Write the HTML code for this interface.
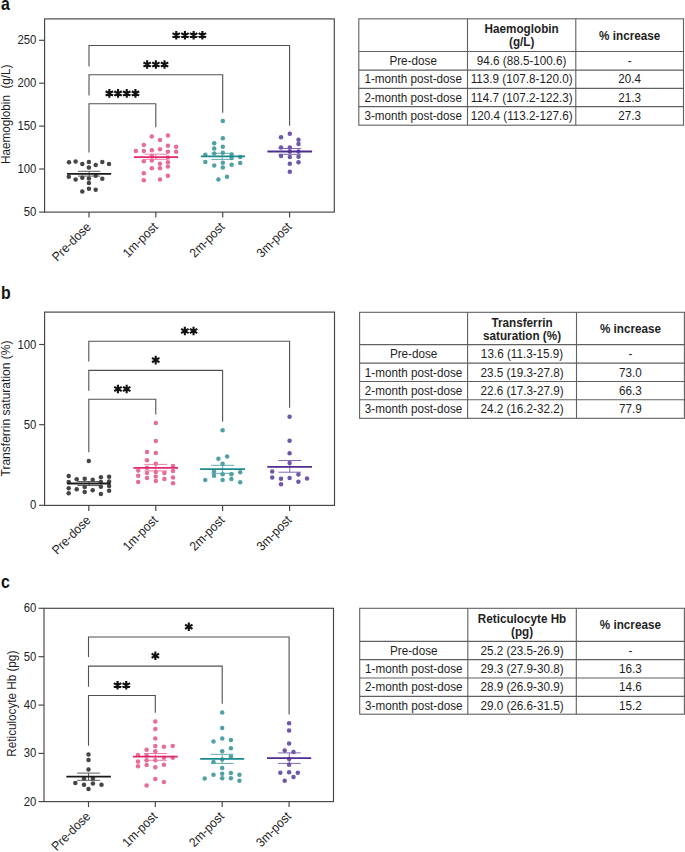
<!DOCTYPE html>
<html><head><meta charset="utf-8"><title>Figure</title>
<style>
html,body{margin:0;padding:0;background:#fff;}
body{width:685px;height:852px;overflow:hidden;font-family:"Liberation Sans", sans-serif;}
svg{display:block;}
svg text{font-family:"Liberation Sans", sans-serif;}
</style></head>
<body>
<svg width="685" height="852" viewBox="0 0 685 852">
<rect width="685" height="852" fill="#fff"/>
<text transform="translate(1.10,9.80) scale(0.9,1.0)" font-size="17.6" font-weight="bold" fill="#111">a</text>
<rect x="44.6" y="18.9" width="289.70" height="193.20" fill="none" stroke="#444444" stroke-width="1.15"/>
<line x1="39.10" y1="40.3" x2="44.6" y2="40.3" stroke="#444444" stroke-width="1.15"/>
<text transform="translate(36.40,44.30) scale(0.9,1.0)" font-size="12.6" text-anchor="end" fill="#1e1e1e">250</text>
<line x1="39.10" y1="83.2" x2="44.6" y2="83.2" stroke="#444444" stroke-width="1.15"/>
<text transform="translate(36.40,87.20) scale(0.9,1.0)" font-size="12.6" text-anchor="end" fill="#1e1e1e">200</text>
<line x1="39.10" y1="126.1" x2="44.6" y2="126.1" stroke="#444444" stroke-width="1.15"/>
<text transform="translate(36.40,130.10) scale(0.9,1.0)" font-size="12.6" text-anchor="end" fill="#1e1e1e">150</text>
<line x1="39.10" y1="169.0" x2="44.6" y2="169.0" stroke="#444444" stroke-width="1.15"/>
<text transform="translate(36.40,173.00) scale(0.9,1.0)" font-size="12.6" text-anchor="end" fill="#1e1e1e">100</text>
<line x1="39.10" y1="212.1" x2="44.6" y2="212.1" stroke="#444444" stroke-width="1.15"/>
<text transform="translate(36.40,216.10) scale(0.9,1.0)" font-size="12.6" text-anchor="end" fill="#1e1e1e">50</text>
<text transform="translate(9.70,114.30) rotate(-90) scale(1.0,1.07)" font-size="11.7" text-anchor="middle" fill="#1e1e1e">Haemoglobin  (g/L)</text>
<line x1="89.0" y1="212.1" x2="89.0" y2="217.60" stroke="#444444" stroke-width="1.15"/>
<text transform="translate(91.70,227.70) rotate(-45) scale(1.0,1.07)" font-size="12.0" text-anchor="end" fill="#1e1e1e">Pre-dose</text>
<line x1="155.8" y1="212.1" x2="155.8" y2="217.60" stroke="#444444" stroke-width="1.15"/>
<text transform="translate(158.50,227.70) rotate(-45) scale(1.0,1.07)" font-size="12.0" text-anchor="end" fill="#1e1e1e">1m-post</text>
<line x1="222.7" y1="212.1" x2="222.7" y2="217.60" stroke="#444444" stroke-width="1.15"/>
<text transform="translate(225.40,227.70) rotate(-45) scale(1.0,1.07)" font-size="12.0" text-anchor="end" fill="#1e1e1e">2m-post</text>
<line x1="289.6" y1="212.1" x2="289.6" y2="217.60" stroke="#444444" stroke-width="1.15"/>
<text transform="translate(292.30,227.70) rotate(-45) scale(1.0,1.07)" font-size="12.0" text-anchor="end" fill="#1e1e1e">3m-post</text>
<path d="M89.0,66.4V45.5H289.6V125.7" fill="none" stroke="#505050" stroke-width="1.1"/>
<path d="M176.25,39.50L176.25,30.90M172.53,37.35L179.97,33.05M172.53,33.05L179.97,37.35M184.95,39.50L184.95,30.90M181.23,37.35L188.67,33.05M181.23,33.05L188.67,37.35M193.65,39.50L193.65,30.90M189.93,37.35L197.37,33.05M189.93,33.05L197.37,37.35M202.35,39.50L202.35,30.90M198.63,37.35L206.07,33.05M198.63,33.05L206.07,37.35" stroke="#111" stroke-width="2.1" stroke-linecap="butt" fill="none"/>
<path d="M89.0,95.5V74.8H222.7V112.7" fill="none" stroke="#505050" stroke-width="1.1"/>
<path d="M147.15,68.80L147.15,60.20M143.43,66.65L150.87,62.35M143.43,62.35L150.87,66.65M155.85,68.80L155.85,60.20M152.13,66.65L159.57,62.35M152.13,62.35L159.57,66.65M164.55,68.80L164.55,60.20M160.83,66.65L168.27,62.35M160.83,62.35L168.27,66.65" stroke="#111" stroke-width="2.1" stroke-linecap="butt" fill="none"/>
<path d="M89.0,152.6V103.7H155.8V127.2" fill="none" stroke="#505050" stroke-width="1.1"/>
<path d="M109.35,97.70L109.35,89.10M105.63,95.55L113.07,91.25M105.63,91.25L113.07,95.55M118.05,97.70L118.05,89.10M114.33,95.55L121.77,91.25M114.33,91.25L121.77,95.55M126.75,97.70L126.75,89.10M123.03,95.55L130.47,91.25M123.03,91.25L130.47,95.55M135.45,97.70L135.45,89.10M131.73,95.55L139.17,91.25M131.73,91.25L139.17,95.55" stroke="#111" stroke-width="2.1" stroke-linecap="butt" fill="none"/>
<circle cx="69.0" cy="162.3" r="2.25" fill="#454545"/>
<circle cx="75.6" cy="161.4" r="2.25" fill="#454545"/>
<circle cx="82.3" cy="164.0" r="2.25" fill="#454545"/>
<circle cx="88.9" cy="162.1" r="2.25" fill="#454545"/>
<circle cx="95.7" cy="164.9" r="2.25" fill="#454545"/>
<circle cx="102.3" cy="162.1" r="2.25" fill="#454545"/>
<circle cx="109.0" cy="164.0" r="2.25" fill="#454545"/>
<circle cx="88.9" cy="167.5" r="2.25" fill="#454545"/>
<circle cx="68.8" cy="176.7" r="2.25" fill="#454545"/>
<circle cx="75.6" cy="179.6" r="2.25" fill="#454545"/>
<circle cx="82.3" cy="177.8" r="2.25" fill="#454545"/>
<circle cx="88.9" cy="178.5" r="2.25" fill="#454545"/>
<circle cx="95.7" cy="175.8" r="2.25" fill="#454545"/>
<circle cx="102.3" cy="178.7" r="2.25" fill="#454545"/>
<circle cx="88.9" cy="183.1" r="2.25" fill="#454545"/>
<circle cx="88.9" cy="188.8" r="2.25" fill="#454545"/>
<circle cx="82.3" cy="191.6" r="2.25" fill="#454545"/>
<circle cx="95.7" cy="189.8" r="2.25" fill="#454545"/>
<path d="M78.0,171.3H100.3M78.0,176.1H100.3M89.15,171.3V176.1" stroke="#4a4a4a" stroke-width="0.9" fill="none"/>
<line x1="67.0" y1="173.8" x2="111.2" y2="173.8" stroke="#1a1a1a" stroke-width="1.8"/>
<circle cx="151.8" cy="136.4" r="2.25" fill="#e66d96"/>
<circle cx="167.9" cy="135.5" r="2.25" fill="#e66d96"/>
<circle cx="160.0" cy="139.9" r="2.25" fill="#e66d96"/>
<circle cx="143.8" cy="145.0" r="2.25" fill="#e66d96"/>
<circle cx="167.9" cy="145.8" r="2.25" fill="#e66d96"/>
<circle cx="176.1" cy="146.7" r="2.25" fill="#e66d96"/>
<circle cx="135.9" cy="151.1" r="2.25" fill="#e66d96"/>
<circle cx="143.8" cy="151.1" r="2.25" fill="#e66d96"/>
<circle cx="151.8" cy="150.2" r="2.25" fill="#e66d96"/>
<circle cx="160.0" cy="149.3" r="2.25" fill="#e66d96"/>
<circle cx="167.9" cy="151.8" r="2.25" fill="#e66d96"/>
<circle cx="176.1" cy="151.8" r="2.25" fill="#e66d96"/>
<circle cx="151.8" cy="156.1" r="2.25" fill="#e66d96"/>
<circle cx="167.9" cy="157.6" r="2.25" fill="#e66d96"/>
<circle cx="143.8" cy="161.3" r="2.25" fill="#e66d96"/>
<circle cx="151.8" cy="160.5" r="2.25" fill="#e66d96"/>
<circle cx="160.0" cy="163.7" r="2.25" fill="#e66d96"/>
<circle cx="167.9" cy="162.2" r="2.25" fill="#e66d96"/>
<circle cx="151.8" cy="168.2" r="2.25" fill="#e66d96"/>
<circle cx="160.0" cy="168.3" r="2.25" fill="#e66d96"/>
<circle cx="167.9" cy="166.6" r="2.25" fill="#e66d96"/>
<circle cx="143.8" cy="173.2" r="2.25" fill="#e66d96"/>
<circle cx="167.9" cy="175.8" r="2.25" fill="#e66d96"/>
<circle cx="143.8" cy="180.2" r="2.25" fill="#e66d96"/>
<circle cx="160.0" cy="179.5" r="2.25" fill="#e66d96"/>
<path d="M144.4,154.2H167.2M144.4,159.3H167.2M155.80,154.2V159.3" stroke="#e8739b" stroke-width="0.9" fill="none"/>
<line x1="133.9" y1="157.2" x2="178.1" y2="157.2" stroke="#e02a70" stroke-width="1.8"/>
<circle cx="222.8" cy="121.0" r="2.25" fill="#50a0a4"/>
<circle cx="222.8" cy="138.2" r="2.25" fill="#50a0a4"/>
<circle cx="214.2" cy="143.3" r="2.25" fill="#50a0a4"/>
<circle cx="214.2" cy="148.5" r="2.25" fill="#50a0a4"/>
<circle cx="222.8" cy="146.7" r="2.25" fill="#50a0a4"/>
<circle cx="214.2" cy="153.4" r="2.25" fill="#50a0a4"/>
<circle cx="222.8" cy="152.8" r="2.25" fill="#50a0a4"/>
<circle cx="205.3" cy="154.8" r="2.25" fill="#50a0a4"/>
<circle cx="231.6" cy="154.6" r="2.25" fill="#50a0a4"/>
<circle cx="231.6" cy="157.9" r="2.25" fill="#50a0a4"/>
<circle cx="240.2" cy="157.0" r="2.25" fill="#50a0a4"/>
<circle cx="205.3" cy="162.1" r="2.25" fill="#50a0a4"/>
<circle cx="214.2" cy="165.6" r="2.25" fill="#50a0a4"/>
<circle cx="222.8" cy="162.7" r="2.25" fill="#50a0a4"/>
<circle cx="231.6" cy="164.7" r="2.25" fill="#50a0a4"/>
<circle cx="240.2" cy="163.0" r="2.25" fill="#50a0a4"/>
<circle cx="222.8" cy="167.5" r="2.25" fill="#50a0a4"/>
<circle cx="218.4" cy="179.4" r="2.25" fill="#50a0a4"/>
<circle cx="227.0" cy="176.8" r="2.25" fill="#50a0a4"/>
<path d="M211.3,153.3H233.2M211.3,159.4H233.2M222.25,153.3V159.4" stroke="#50a0a4" stroke-width="0.9" fill="none"/>
<line x1="200.8" y1="156.3" x2="245.0" y2="156.3" stroke="#1a8a8e" stroke-width="1.8"/>
<circle cx="289.8" cy="133.8" r="2.25" fill="#7056a8"/>
<circle cx="281.0" cy="137.3" r="2.25" fill="#7056a8"/>
<circle cx="298.5" cy="139.8" r="2.25" fill="#7056a8"/>
<circle cx="298.5" cy="144.1" r="2.25" fill="#7056a8"/>
<circle cx="281.0" cy="147.6" r="2.25" fill="#7056a8"/>
<circle cx="289.8" cy="147.6" r="2.25" fill="#7056a8"/>
<circle cx="289.8" cy="151.5" r="2.25" fill="#7056a8"/>
<circle cx="298.5" cy="151.5" r="2.25" fill="#7056a8"/>
<circle cx="281.0" cy="155.9" r="2.25" fill="#7056a8"/>
<circle cx="289.8" cy="157.0" r="2.25" fill="#7056a8"/>
<circle cx="298.5" cy="156.8" r="2.25" fill="#7056a8"/>
<circle cx="298.5" cy="162.3" r="2.25" fill="#7056a8"/>
<circle cx="289.8" cy="163.8" r="2.25" fill="#7056a8"/>
<circle cx="289.8" cy="171.7" r="2.25" fill="#7056a8"/>
<path d="M278.4,148.5H301.2M278.4,154.3H301.2M289.80,148.5V154.3" stroke="#7455ab" stroke-width="0.9" fill="none"/>
<line x1="267.4" y1="151.5" x2="312.1" y2="151.5" stroke="#4f2d8f" stroke-width="1.8"/>
<rect x="358.8" y="18.8" width="324.70" height="106.40" fill="#fff" stroke="#606060" stroke-width="1.1"/>
<line x1="358.8" y1="51.5" x2="683.5" y2="51.5" stroke="#606060" stroke-width="1.1"/>
<line x1="358.8" y1="70.1" x2="683.5" y2="70.1" stroke="#606060" stroke-width="1.1"/>
<line x1="358.8" y1="88.4" x2="683.5" y2="88.4" stroke="#606060" stroke-width="1.1"/>
<line x1="358.8" y1="106.6" x2="683.5" y2="106.6" stroke="#606060" stroke-width="1.1"/>
<line x1="467.5" y1="18.8" x2="467.5" y2="125.2" stroke="#606060" stroke-width="1.1"/>
<line x1="575.8" y1="18.8" x2="575.8" y2="125.2" stroke="#606060" stroke-width="1.1"/>
<text transform="translate(521.65,33.45) scale(1.0,1.07)" font-size="11.7" font-weight="bold" text-anchor="middle" fill="#1e1e1e">Haemoglobin</text>
<text transform="translate(521.65,46.45) scale(1.0,1.07)" font-size="11.7" font-weight="bold" text-anchor="middle" fill="#1e1e1e">(g/L)</text>
<text transform="translate(629.65,39.65) scale(1.0,1.07)" font-size="11.7" font-weight="bold" text-anchor="middle" fill="#1e1e1e">% increase</text>
<text transform="translate(413.15,65.00) scale(1.0,1.07)" font-size="11.7" text-anchor="middle" fill="#1e1e1e">Pre-dose</text>
<text transform="translate(521.65,65.00) scale(1.0,1.07)" font-size="11.7" text-anchor="middle" fill="#1e1e1e">94.6 (88.5-100.6)</text>
<text transform="translate(629.65,65.00) scale(1.0,1.07)" font-size="11.7" text-anchor="middle" fill="#1e1e1e">-</text>
<text transform="translate(413.15,83.45) scale(1.0,1.07)" font-size="11.7" text-anchor="middle" fill="#1e1e1e">1-month post-dose</text>
<text transform="translate(521.65,83.45) scale(1.0,1.07)" font-size="11.7" text-anchor="middle" fill="#1e1e1e">113.9 (107.8-120.0)</text>
<text transform="translate(629.65,83.45) scale(1.0,1.07)" font-size="11.7" text-anchor="middle" fill="#1e1e1e">20.4</text>
<text transform="translate(413.15,101.70) scale(1.0,1.07)" font-size="11.7" text-anchor="middle" fill="#1e1e1e">2-month post-dose</text>
<text transform="translate(521.65,101.70) scale(1.0,1.07)" font-size="11.7" text-anchor="middle" fill="#1e1e1e">114.7 (107.2-122.3)</text>
<text transform="translate(629.65,101.70) scale(1.0,1.07)" font-size="11.7" text-anchor="middle" fill="#1e1e1e">21.3</text>
<text transform="translate(413.15,120.10) scale(1.0,1.07)" font-size="11.7" text-anchor="middle" fill="#1e1e1e">3-month post-dose</text>
<text transform="translate(521.65,120.10) scale(1.0,1.07)" font-size="11.7" text-anchor="middle" fill="#1e1e1e">120.4 (113.2-127.6)</text>
<text transform="translate(629.65,120.10) scale(1.0,1.07)" font-size="11.7" text-anchor="middle" fill="#1e1e1e">27.3</text>
<text transform="translate(1.10,298.70) scale(0.9,1.0)" font-size="17.6" font-weight="bold" fill="#111">b</text>
<rect x="44.6" y="312.1" width="289.90" height="193.30" fill="none" stroke="#444444" stroke-width="1.15"/>
<line x1="39.10" y1="344.5" x2="44.6" y2="344.5" stroke="#444444" stroke-width="1.15"/>
<text transform="translate(36.40,348.50) scale(0.9,1.0)" font-size="12.6" text-anchor="end" fill="#1e1e1e">100</text>
<line x1="39.10" y1="424.7" x2="44.6" y2="424.7" stroke="#444444" stroke-width="1.15"/>
<text transform="translate(36.40,428.70) scale(0.9,1.0)" font-size="12.6" text-anchor="end" fill="#1e1e1e">50</text>
<line x1="39.10" y1="505.3" x2="44.6" y2="505.3" stroke="#444444" stroke-width="1.15"/>
<text transform="translate(36.40,509.30) scale(0.9,1.0)" font-size="12.6" text-anchor="end" fill="#1e1e1e">0</text>
<text transform="translate(9.80,408.50) rotate(-90) scale(1.0,1.07)" font-size="12.05" text-anchor="middle" fill="#1e1e1e">Transferrin saturation (%)</text>
<line x1="88.8" y1="505.4" x2="88.8" y2="510.90" stroke="#444444" stroke-width="1.15"/>
<text transform="translate(91.50,521.00) rotate(-45) scale(1.0,1.07)" font-size="12.0" text-anchor="end" fill="#1e1e1e">Pre-dose</text>
<line x1="155.8" y1="505.4" x2="155.8" y2="510.90" stroke="#444444" stroke-width="1.15"/>
<text transform="translate(158.50,521.00) rotate(-45) scale(1.0,1.07)" font-size="12.0" text-anchor="end" fill="#1e1e1e">1m-post</text>
<line x1="222.6" y1="505.4" x2="222.6" y2="510.90" stroke="#444444" stroke-width="1.15"/>
<text transform="translate(225.30,521.00) rotate(-45) scale(1.0,1.07)" font-size="12.0" text-anchor="end" fill="#1e1e1e">2m-post</text>
<line x1="289.6" y1="505.4" x2="289.6" y2="510.90" stroke="#444444" stroke-width="1.15"/>
<text transform="translate(292.30,521.00) rotate(-45) scale(1.0,1.07)" font-size="12.0" text-anchor="end" fill="#1e1e1e">3m-post</text>
<path d="M88.8,361.5V341.3H289.6V407.8" fill="none" stroke="#505050" stroke-width="1.1"/>
<path d="M184.85,335.30L184.85,326.70M181.13,333.15L188.57,328.85M181.13,328.85L188.57,333.15M193.55,335.30L193.55,326.70M189.83,333.15L197.27,328.85M189.83,328.85L197.27,333.15" stroke="#111" stroke-width="2.1" stroke-linecap="butt" fill="none"/>
<path d="M88.8,390.7V370.4H222.6V421.6" fill="none" stroke="#505050" stroke-width="1.1"/>
<path d="M155.70,364.40L155.70,355.80M151.98,362.25L159.42,357.95M151.98,357.95L159.42,362.25" stroke="#111" stroke-width="2.1" stroke-linecap="butt" fill="none"/>
<path d="M88.8,452.2V399.3H155.8V414.4" fill="none" stroke="#505050" stroke-width="1.1"/>
<path d="M117.95,393.30L117.95,384.70M114.23,391.15L121.67,386.85M114.23,386.85L121.67,391.15M126.65,393.30L126.65,384.70M122.93,391.15L130.37,386.85M122.93,386.85L130.37,391.15" stroke="#111" stroke-width="2.1" stroke-linecap="butt" fill="none"/>
<circle cx="88.8" cy="460.9" r="2.25" fill="#454545"/>
<circle cx="68.7" cy="475.9" r="2.25" fill="#454545"/>
<circle cx="76.7" cy="479.2" r="2.25" fill="#454545"/>
<circle cx="84.7" cy="478.8" r="2.25" fill="#454545"/>
<circle cx="92.7" cy="479.8" r="2.25" fill="#454545"/>
<circle cx="100.9" cy="477.2" r="2.25" fill="#454545"/>
<circle cx="109.1" cy="476.8" r="2.25" fill="#454545"/>
<circle cx="68.7" cy="481.9" r="2.25" fill="#454545"/>
<circle cx="100.9" cy="481.9" r="2.25" fill="#454545"/>
<circle cx="109.1" cy="481.5" r="2.25" fill="#454545"/>
<circle cx="68.7" cy="488.2" r="2.25" fill="#454545"/>
<circle cx="76.7" cy="489.2" r="2.25" fill="#454545"/>
<circle cx="84.7" cy="487.1" r="2.25" fill="#454545"/>
<circle cx="92.7" cy="490.2" r="2.25" fill="#454545"/>
<circle cx="100.9" cy="486.8" r="2.25" fill="#454545"/>
<circle cx="109.1" cy="486.1" r="2.25" fill="#454545"/>
<circle cx="68.7" cy="493.2" r="2.25" fill="#454545"/>
<circle cx="84.7" cy="492.0" r="2.25" fill="#454545"/>
<circle cx="100.9" cy="494.1" r="2.25" fill="#454545"/>
<circle cx="109.1" cy="490.8" r="2.25" fill="#454545"/>
<path d="M77.4,481.5H100.6M77.4,485.5H100.6M89.00,481.5V485.5" stroke="#4a4a4a" stroke-width="0.9" fill="none"/>
<line x1="67.1" y1="483.5" x2="110.5" y2="483.5" stroke="#1a1a1a" stroke-width="1.8"/>
<circle cx="155.8" cy="423.1" r="2.25" fill="#e66d96"/>
<circle cx="155.8" cy="440.9" r="2.25" fill="#e66d96"/>
<circle cx="147.0" cy="452.1" r="2.25" fill="#e66d96"/>
<circle cx="155.8" cy="453.1" r="2.25" fill="#e66d96"/>
<circle cx="147.0" cy="460.3" r="2.25" fill="#e66d96"/>
<circle cx="155.8" cy="463.7" r="2.25" fill="#e66d96"/>
<circle cx="147.0" cy="467.8" r="2.25" fill="#e66d96"/>
<circle cx="173.0" cy="466.0" r="2.25" fill="#e66d96"/>
<circle cx="138.2" cy="470.4" r="2.25" fill="#e66d96"/>
<circle cx="147.0" cy="473.1" r="2.25" fill="#e66d96"/>
<circle cx="155.8" cy="471.9" r="2.25" fill="#e66d96"/>
<circle cx="164.4" cy="473.1" r="2.25" fill="#e66d96"/>
<circle cx="173.0" cy="471.1" r="2.25" fill="#e66d96"/>
<circle cx="138.2" cy="475.8" r="2.25" fill="#e66d96"/>
<circle cx="147.0" cy="477.9" r="2.25" fill="#e66d96"/>
<circle cx="155.8" cy="476.4" r="2.25" fill="#e66d96"/>
<circle cx="173.0" cy="477.6" r="2.25" fill="#e66d96"/>
<circle cx="138.2" cy="482.1" r="2.25" fill="#e66d96"/>
<circle cx="155.8" cy="480.9" r="2.25" fill="#e66d96"/>
<circle cx="164.4" cy="479.1" r="2.25" fill="#e66d96"/>
<circle cx="173.0" cy="483.3" r="2.25" fill="#e66d96"/>
<path d="M144.4,464.4H167.1M144.4,470.9H167.1M155.75,464.4V470.9" stroke="#e8739b" stroke-width="0.9" fill="none"/>
<line x1="133.3" y1="467.8" x2="178.0" y2="467.8" stroke="#e02a70" stroke-width="1.8"/>
<circle cx="222.6" cy="430.2" r="2.25" fill="#50a0a4"/>
<circle cx="218.4" cy="458.8" r="2.25" fill="#50a0a4"/>
<circle cx="227.1" cy="456.6" r="2.25" fill="#50a0a4"/>
<circle cx="222.6" cy="463.7" r="2.25" fill="#50a0a4"/>
<circle cx="214.0" cy="471.5" r="2.25" fill="#50a0a4"/>
<circle cx="240.2" cy="472.2" r="2.25" fill="#50a0a4"/>
<circle cx="222.6" cy="474.2" r="2.25" fill="#50a0a4"/>
<circle cx="231.4" cy="474.2" r="2.25" fill="#50a0a4"/>
<circle cx="214.0" cy="475.8" r="2.25" fill="#50a0a4"/>
<circle cx="205.3" cy="480.1" r="2.25" fill="#50a0a4"/>
<circle cx="222.6" cy="480.1" r="2.25" fill="#50a0a4"/>
<circle cx="231.4" cy="479.1" r="2.25" fill="#50a0a4"/>
<circle cx="240.2" cy="482.2" r="2.25" fill="#50a0a4"/>
<path d="M211.2,465.3H234.1M211.2,473.3H234.1M222.65,465.3V473.3" stroke="#50a0a4" stroke-width="0.9" fill="none"/>
<line x1="200.1" y1="469.1" x2="245.1" y2="469.1" stroke="#1a8a8e" stroke-width="1.8"/>
<circle cx="289.6" cy="416.7" r="2.25" fill="#7056a8"/>
<circle cx="289.6" cy="440.7" r="2.25" fill="#7056a8"/>
<circle cx="289.6" cy="453.3" r="2.25" fill="#7056a8"/>
<circle cx="289.6" cy="463.1" r="2.25" fill="#7056a8"/>
<circle cx="272.2" cy="471.4" r="2.25" fill="#7056a8"/>
<circle cx="272.2" cy="477.4" r="2.25" fill="#7056a8"/>
<circle cx="281.0" cy="478.8" r="2.25" fill="#7056a8"/>
<circle cx="281.0" cy="484.2" r="2.25" fill="#7056a8"/>
<circle cx="289.6" cy="478.0" r="2.25" fill="#7056a8"/>
<circle cx="298.4" cy="474.4" r="2.25" fill="#7056a8"/>
<circle cx="298.4" cy="481.7" r="2.25" fill="#7056a8"/>
<circle cx="307.0" cy="478.6" r="2.25" fill="#7056a8"/>
<path d="M278.4,460.5H301.1M278.4,472.2H301.1M289.75,460.5V472.2" stroke="#7455ab" stroke-width="0.9" fill="none"/>
<line x1="267.3" y1="466.8" x2="312.0" y2="466.8" stroke="#4f2d8f" stroke-width="1.8"/>
<rect x="359.6" y="312.3" width="324.80" height="106.00" fill="#fff" stroke="#606060" stroke-width="1.1"/>
<line x1="359.6" y1="344.6" x2="684.4" y2="344.6" stroke="#606060" stroke-width="1.1"/>
<line x1="359.6" y1="363.1" x2="684.4" y2="363.1" stroke="#606060" stroke-width="1.1"/>
<line x1="359.6" y1="381.5" x2="684.4" y2="381.5" stroke="#606060" stroke-width="1.1"/>
<line x1="359.6" y1="399.8" x2="684.4" y2="399.8" stroke="#606060" stroke-width="1.1"/>
<line x1="467.6" y1="312.3" x2="467.6" y2="418.3" stroke="#606060" stroke-width="1.1"/>
<line x1="576.5" y1="312.3" x2="576.5" y2="418.3" stroke="#606060" stroke-width="1.1"/>
<text transform="translate(522.05,326.75) scale(1.0,1.07)" font-size="11.7" font-weight="bold" text-anchor="middle" fill="#1e1e1e">Transferrin</text>
<text transform="translate(522.05,339.75) scale(1.0,1.07)" font-size="11.7" font-weight="bold" text-anchor="middle" fill="#1e1e1e">saturation (%)</text>
<text transform="translate(630.45,332.95) scale(1.0,1.07)" font-size="11.7" font-weight="bold" text-anchor="middle" fill="#1e1e1e">% increase</text>
<text transform="translate(413.60,358.05) scale(1.0,1.07)" font-size="11.7" text-anchor="middle" fill="#1e1e1e">Pre-dose</text>
<text transform="translate(522.05,358.05) scale(1.0,1.07)" font-size="11.7" text-anchor="middle" fill="#1e1e1e">13.6 (11.3-15.9)</text>
<text transform="translate(630.45,358.05) scale(1.0,1.07)" font-size="11.7" text-anchor="middle" fill="#1e1e1e">-</text>
<text transform="translate(413.60,376.50) scale(1.0,1.07)" font-size="11.7" text-anchor="middle" fill="#1e1e1e">1-month post-dose</text>
<text transform="translate(522.05,376.50) scale(1.0,1.07)" font-size="11.7" text-anchor="middle" fill="#1e1e1e">23.5 (19.3-27.8)</text>
<text transform="translate(630.45,376.50) scale(1.0,1.07)" font-size="11.7" text-anchor="middle" fill="#1e1e1e">73.0</text>
<text transform="translate(413.60,394.85) scale(1.0,1.07)" font-size="11.7" text-anchor="middle" fill="#1e1e1e">2-month post-dose</text>
<text transform="translate(522.05,394.85) scale(1.0,1.07)" font-size="11.7" text-anchor="middle" fill="#1e1e1e">22.6 (17.3-27.9)</text>
<text transform="translate(630.45,394.85) scale(1.0,1.07)" font-size="11.7" text-anchor="middle" fill="#1e1e1e">66.3</text>
<text transform="translate(413.60,413.25) scale(1.0,1.07)" font-size="11.7" text-anchor="middle" fill="#1e1e1e">3-month post-dose</text>
<text transform="translate(522.05,413.25) scale(1.0,1.07)" font-size="11.7" text-anchor="middle" fill="#1e1e1e">24.2 (16.2-32.2)</text>
<text transform="translate(630.45,413.25) scale(1.0,1.07)" font-size="11.7" text-anchor="middle" fill="#1e1e1e">77.9</text>
<text transform="translate(1.10,588.40) scale(0.9,1.0)" font-size="17.6" font-weight="bold" fill="#111">c</text>
<rect x="44.0" y="608.3" width="289.50" height="193.30" fill="none" stroke="#444444" stroke-width="1.15"/>
<line x1="38.50" y1="608.3" x2="44.0" y2="608.3" stroke="#444444" stroke-width="1.15"/>
<text transform="translate(36.40,612.30) scale(0.9,1.0)" font-size="12.6" text-anchor="end" fill="#1e1e1e">60</text>
<line x1="38.50" y1="656.7" x2="44.0" y2="656.7" stroke="#444444" stroke-width="1.15"/>
<text transform="translate(36.40,660.70) scale(0.9,1.0)" font-size="12.6" text-anchor="end" fill="#1e1e1e">50</text>
<line x1="38.50" y1="705.1" x2="44.0" y2="705.1" stroke="#444444" stroke-width="1.15"/>
<text transform="translate(36.40,709.10) scale(0.9,1.0)" font-size="12.6" text-anchor="end" fill="#1e1e1e">40</text>
<line x1="38.50" y1="753.4" x2="44.0" y2="753.4" stroke="#444444" stroke-width="1.15"/>
<text transform="translate(36.40,757.40) scale(0.9,1.0)" font-size="12.6" text-anchor="end" fill="#1e1e1e">30</text>
<line x1="38.50" y1="801.6" x2="44.0" y2="801.6" stroke="#444444" stroke-width="1.15"/>
<text transform="translate(36.40,805.60) scale(0.9,1.0)" font-size="12.6" text-anchor="end" fill="#1e1e1e">20</text>
<text transform="translate(15.90,703.70) rotate(-90) scale(1.0,1.07)" font-size="11.7" text-anchor="middle" fill="#1e1e1e">Reticulocyte Hb (pg)</text>
<line x1="88.5" y1="801.6" x2="88.5" y2="807.10" stroke="#444444" stroke-width="1.15"/>
<text transform="translate(91.20,817.20) rotate(-45) scale(1.0,1.07)" font-size="12.0" text-anchor="end" fill="#1e1e1e">Pre-dose</text>
<line x1="155.3" y1="801.6" x2="155.3" y2="807.10" stroke="#444444" stroke-width="1.15"/>
<text transform="translate(158.00,817.20) rotate(-45) scale(1.0,1.07)" font-size="12.0" text-anchor="end" fill="#1e1e1e">1m-post</text>
<line x1="222.2" y1="801.6" x2="222.2" y2="807.10" stroke="#444444" stroke-width="1.15"/>
<text transform="translate(224.90,817.20) rotate(-45) scale(1.0,1.07)" font-size="12.0" text-anchor="end" fill="#1e1e1e">2m-post</text>
<line x1="289.1" y1="801.6" x2="289.1" y2="807.10" stroke="#444444" stroke-width="1.15"/>
<text transform="translate(291.80,817.20) rotate(-45) scale(1.0,1.07)" font-size="12.0" text-anchor="end" fill="#1e1e1e">3m-post</text>
<path d="M88.5,657.1V637.0H289.1V714.5" fill="none" stroke="#505050" stroke-width="1.1"/>
<path d="M188.80,631.00L188.80,622.40M185.08,628.85L192.52,624.55M185.08,624.55L192.52,628.85" stroke="#111" stroke-width="2.1" stroke-linecap="butt" fill="none"/>
<path d="M88.5,686.7V666.1H222.2V703.8" fill="none" stroke="#505050" stroke-width="1.1"/>
<path d="M155.35,660.10L155.35,651.50M151.63,657.95L159.07,653.65M151.63,653.65L159.07,657.95" stroke="#111" stroke-width="2.1" stroke-linecap="butt" fill="none"/>
<path d="M88.5,745.7V695.5H155.3V712.8" fill="none" stroke="#505050" stroke-width="1.1"/>
<path d="M117.55,689.50L117.55,680.90M113.83,687.35L121.27,683.05M113.83,683.05L121.27,687.35M126.25,689.50L126.25,680.90M122.53,687.35L129.97,683.05M122.53,683.05L129.97,687.35" stroke="#111" stroke-width="2.1" stroke-linecap="butt" fill="none"/>
<circle cx="88.5" cy="754.4" r="2.25" fill="#454545"/>
<circle cx="88.5" cy="759.9" r="2.25" fill="#454545"/>
<circle cx="88.5" cy="769.5" r="2.25" fill="#454545"/>
<circle cx="84.0" cy="778.6" r="2.25" fill="#454545"/>
<circle cx="92.9" cy="778.6" r="2.25" fill="#454545"/>
<circle cx="75.3" cy="782.9" r="2.25" fill="#454545"/>
<circle cx="84.0" cy="784.8" r="2.25" fill="#454545"/>
<circle cx="92.9" cy="783.4" r="2.25" fill="#454545"/>
<circle cx="101.5" cy="784.8" r="2.25" fill="#454545"/>
<circle cx="88.5" cy="789.0" r="2.25" fill="#454545"/>
<path d="M77.1,773.1H99.9M77.1,780.3H99.9M88.50,773.1V780.3" stroke="#4a4a4a" stroke-width="0.9" fill="none"/>
<line x1="66.3" y1="776.6" x2="110.9" y2="776.6" stroke="#1a1a1a" stroke-width="1.8"/>
<circle cx="155.3" cy="721.5" r="2.25" fill="#e66d96"/>
<circle cx="155.3" cy="729.0" r="2.25" fill="#e66d96"/>
<circle cx="155.3" cy="738.4" r="2.25" fill="#e66d96"/>
<circle cx="155.3" cy="746.1" r="2.25" fill="#e66d96"/>
<circle cx="163.9" cy="746.8" r="2.25" fill="#e66d96"/>
<circle cx="172.7" cy="746.1" r="2.25" fill="#e66d96"/>
<circle cx="146.6" cy="749.7" r="2.25" fill="#e66d96"/>
<circle cx="155.3" cy="751.2" r="2.25" fill="#e66d96"/>
<circle cx="138.0" cy="755.0" r="2.25" fill="#e66d96"/>
<circle cx="146.6" cy="755.6" r="2.25" fill="#e66d96"/>
<circle cx="163.9" cy="757.8" r="2.25" fill="#e66d96"/>
<circle cx="172.7" cy="757.8" r="2.25" fill="#e66d96"/>
<circle cx="146.6" cy="760.3" r="2.25" fill="#e66d96"/>
<circle cx="155.3" cy="760.3" r="2.25" fill="#e66d96"/>
<circle cx="138.0" cy="761.6" r="2.25" fill="#e66d96"/>
<circle cx="138.0" cy="766.2" r="2.25" fill="#e66d96"/>
<circle cx="146.6" cy="765.1" r="2.25" fill="#e66d96"/>
<circle cx="155.3" cy="767.2" r="2.25" fill="#e66d96"/>
<circle cx="163.9" cy="764.7" r="2.25" fill="#e66d96"/>
<circle cx="155.3" cy="779.1" r="2.25" fill="#e66d96"/>
<circle cx="163.9" cy="781.9" r="2.25" fill="#e66d96"/>
<circle cx="146.6" cy="785.6" r="2.25" fill="#e66d96"/>
<path d="M144.0,753.5H166.8M144.0,760.3H166.8M155.40,753.5V760.3" stroke="#e8739b" stroke-width="0.9" fill="none"/>
<line x1="133.0" y1="756.7" x2="177.8" y2="756.7" stroke="#e02a70" stroke-width="1.8"/>
<circle cx="222.2" cy="712.4" r="2.25" fill="#50a0a4"/>
<circle cx="222.2" cy="728.1" r="2.25" fill="#50a0a4"/>
<circle cx="222.2" cy="738.6" r="2.25" fill="#50a0a4"/>
<circle cx="213.5" cy="741.4" r="2.25" fill="#50a0a4"/>
<circle cx="230.9" cy="740.0" r="2.25" fill="#50a0a4"/>
<circle cx="230.9" cy="748.2" r="2.25" fill="#50a0a4"/>
<circle cx="222.2" cy="751.3" r="2.25" fill="#50a0a4"/>
<circle cx="230.9" cy="756.4" r="2.25" fill="#50a0a4"/>
<circle cx="222.2" cy="759.6" r="2.25" fill="#50a0a4"/>
<circle cx="213.5" cy="762.1" r="2.25" fill="#50a0a4"/>
<circle cx="222.2" cy="768.0" r="2.25" fill="#50a0a4"/>
<circle cx="213.5" cy="774.8" r="2.25" fill="#50a0a4"/>
<circle cx="222.2" cy="773.7" r="2.25" fill="#50a0a4"/>
<circle cx="230.9" cy="773.1" r="2.25" fill="#50a0a4"/>
<circle cx="239.4" cy="774.8" r="2.25" fill="#50a0a4"/>
<circle cx="204.7" cy="778.6" r="2.25" fill="#50a0a4"/>
<circle cx="222.2" cy="778.3" r="2.25" fill="#50a0a4"/>
<circle cx="230.9" cy="778.3" r="2.25" fill="#50a0a4"/>
<circle cx="239.4" cy="780.7" r="2.25" fill="#50a0a4"/>
<path d="M210.8,754.3H233.6M210.8,763.4H233.6M222.20,754.3V763.4" stroke="#50a0a4" stroke-width="0.9" fill="none"/>
<line x1="200.2" y1="758.9" x2="244.2" y2="758.9" stroke="#1a8a8e" stroke-width="1.8"/>
<circle cx="289.1" cy="723.2" r="2.25" fill="#7056a8"/>
<circle cx="289.1" cy="730.5" r="2.25" fill="#7056a8"/>
<circle cx="289.1" cy="743.4" r="2.25" fill="#7056a8"/>
<circle cx="284.7" cy="750.5" r="2.25" fill="#7056a8"/>
<circle cx="293.5" cy="751.9" r="2.25" fill="#7056a8"/>
<circle cx="289.1" cy="758.9" r="2.25" fill="#7056a8"/>
<circle cx="289.1" cy="764.8" r="2.25" fill="#7056a8"/>
<circle cx="280.3" cy="772.8" r="2.25" fill="#7056a8"/>
<circle cx="289.1" cy="772.3" r="2.25" fill="#7056a8"/>
<circle cx="297.8" cy="772.8" r="2.25" fill="#7056a8"/>
<circle cx="293.5" cy="777.1" r="2.25" fill="#7056a8"/>
<circle cx="284.7" cy="780.7" r="2.25" fill="#7056a8"/>
<path d="M277.9,752.9H300.7M277.9,763.4H300.7M289.30,752.9V763.4" stroke="#7455ab" stroke-width="0.9" fill="none"/>
<line x1="267.0" y1="758.1" x2="311.2" y2="758.1" stroke="#4f2d8f" stroke-width="1.8"/>
<rect x="359.7" y="608.3" width="324.70" height="105.90" fill="#fff" stroke="#606060" stroke-width="1.1"/>
<line x1="359.7" y1="641.4" x2="684.4" y2="641.4" stroke="#606060" stroke-width="1.1"/>
<line x1="359.7" y1="659.6" x2="684.4" y2="659.6" stroke="#606060" stroke-width="1.1"/>
<line x1="359.7" y1="678.0" x2="684.4" y2="678.0" stroke="#606060" stroke-width="1.1"/>
<line x1="359.7" y1="696.4" x2="684.4" y2="696.4" stroke="#606060" stroke-width="1.1"/>
<line x1="467.8" y1="608.3" x2="467.8" y2="714.2" stroke="#606060" stroke-width="1.1"/>
<line x1="576.3" y1="608.3" x2="576.3" y2="714.2" stroke="#606060" stroke-width="1.1"/>
<text transform="translate(522.05,623.15) scale(1.0,1.07)" font-size="11.7" font-weight="bold" text-anchor="middle" fill="#1e1e1e">Reticulocyte Hb</text>
<text transform="translate(522.05,636.15) scale(1.0,1.07)" font-size="11.7" font-weight="bold" text-anchor="middle" fill="#1e1e1e">(pg)</text>
<text transform="translate(630.35,629.35) scale(1.0,1.07)" font-size="11.7" font-weight="bold" text-anchor="middle" fill="#1e1e1e">% increase</text>
<text transform="translate(413.75,654.70) scale(1.0,1.07)" font-size="11.7" text-anchor="middle" fill="#1e1e1e">Pre-dose</text>
<text transform="translate(522.05,654.70) scale(1.0,1.07)" font-size="11.7" text-anchor="middle" fill="#1e1e1e">25.2 (23.5-26.9)</text>
<text transform="translate(630.35,654.70) scale(1.0,1.07)" font-size="11.7" text-anchor="middle" fill="#1e1e1e">-</text>
<text transform="translate(413.75,673.00) scale(1.0,1.07)" font-size="11.7" text-anchor="middle" fill="#1e1e1e">1-month post-dose</text>
<text transform="translate(522.05,673.00) scale(1.0,1.07)" font-size="11.7" text-anchor="middle" fill="#1e1e1e">29.3 (27.9-30.8)</text>
<text transform="translate(630.35,673.00) scale(1.0,1.07)" font-size="11.7" text-anchor="middle" fill="#1e1e1e">16.3</text>
<text transform="translate(413.75,691.40) scale(1.0,1.07)" font-size="11.7" text-anchor="middle" fill="#1e1e1e">2-month post-dose</text>
<text transform="translate(522.05,691.40) scale(1.0,1.07)" font-size="11.7" text-anchor="middle" fill="#1e1e1e">28.9 (26.9-30.9)</text>
<text transform="translate(630.35,691.40) scale(1.0,1.07)" font-size="11.7" text-anchor="middle" fill="#1e1e1e">14.6</text>
<text transform="translate(413.75,709.50) scale(1.0,1.07)" font-size="11.7" text-anchor="middle" fill="#1e1e1e">3-month post-dose</text>
<text transform="translate(522.05,709.50) scale(1.0,1.07)" font-size="11.7" text-anchor="middle" fill="#1e1e1e">29.0 (26.6-31.5)</text>
<text transform="translate(630.35,709.50) scale(1.0,1.07)" font-size="11.7" text-anchor="middle" fill="#1e1e1e">15.2</text>
</svg>
</body></html>
